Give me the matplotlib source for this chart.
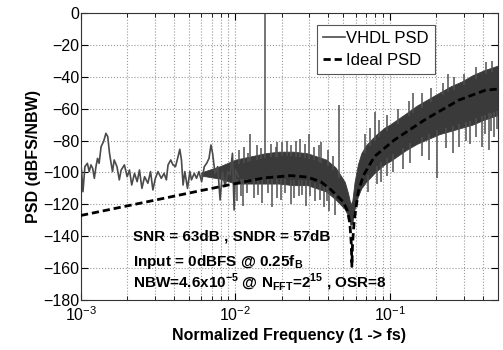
import numpy as np
import matplotlib
matplotlib.use('Agg')
import matplotlib.pyplot as plt

plt.rcParams['font.family'] = ['Liberation Sans', 'DejaVu Sans']
plt.rcParams['mathtext.fontset'] = 'custom'
plt.rcParams['mathtext.rm'] = 'Liberation Sans'
plt.rcParams['mathtext.bf'] = 'Liberation Sans:bold'

# VHDL PSD, low frequency part
lf_f = [0.00100, 0.00101, 0.00103, 0.00106, 0.00110, 0.00113, 0.00116, 0.00119,
        0.00122, 0.00125, 0.00128, 0.00131, 0.00135, 0.00140, 0.00145, 0.00149,
        0.00153, 0.00156, 0.00160, 0.00164, 0.00171, 0.00177, 0.00182, 0.00191,
        0.00199, 0.00206, 0.00213, 0.00222, 0.00231, 0.00239, 0.00248, 0.00258,
        0.00271, 0.00282, 0.00292, 0.00303, 0.00315, 0.00331, 0.00345, 0.00357,
        0.00366, 0.00381, 0.00394, 0.00409, 0.00425, 0.00436, 0.00447, 0.00458,
        0.00470, 0.00489, 0.00507, 0.00519, 0.00541, 0.00560, 0.00580, 0.00604,
        0.00628, 0.00651, 0.00674, 0.00694, 0.00711, 0.00737, 0.00767, 0.00795,
        0.00823, 0.00856, 0.00891, 0.00923, 0.00956, 0.00980, 0.01000, 0.01046]
lf_db = [-95.3, -99.5, -112.1, -96.4, -94.3, -99.5, -95.3, -97.4,
         -103.7, -96.4, -91.2, -94.3, -83.8, -80.7, -75.5, -77.6,
         -88.0, -93.2, -99.5, -92.2, -96.4, -104.7, -98.5, -95.3,
         -102.7, -98.5, -107.9, -100.6, -105.8, -98.5, -110.0, -102.7,
         -106.8, -99.5, -111.0, -103.7, -99.5, -103.7, -100.6, -104.7,
         -95.3, -92.2, -95.3, -96.4, -90.1, -85.5, -92.2, -107.9,
         -99.5, -110.0, -99.5, -104.7, -100.6, -103.7, -99.5, -105.8,
         -96.4, -94.3, -91.2, -82.8, -88.0, -100.6, -96.4, -117.3,
         -99.5, -108.9, -99.5, -101.6, -88.0, -123.6, -98.5, -102.7]

# VHDL PSD, dense band envelope
band_f = [0.0060, 0.0080, 0.0100, 0.0125, 0.0155, 0.0191, 0.0236, 0.0292, 0.0336,
          0.0387, 0.0445, 0.0510, 0.0535, 0.0555, 0.0570, 0.0590, 0.0620, 0.0652,
          0.0700, 0.0800, 0.0920, 0.1000, 0.127, 0.150, 0.177, 0.209, 0.247, 0.291,
          0.343, 0.405, 0.500]
band_top = [-100, -96, -92, -90, -88, -87, -87, -88, -90, -92, -97, -106, -113,
            -120, -118, -106, -95, -88, -83, -77, -72, -70, -63, -58, -54, -50, -46,
            -43, -39, -36, -33]
band_bot = [-102, -104, -107, -107, -107, -107, -108, -108, -110, -112, -117, -123,
            -127, -133, -132, -123, -115, -110, -106, -100, -95, -93, -86, -82, -79,
            -76, -74, -72, -70, -67, -64]

# spurs above the band (freq, top)
up_f = [0.0105, 0.0113, 0.0121, 0.0125, 0.0138, 0.0147, 0.0156, 0.0171, 0.0182,
        0.0186, 0.0200, 0.0215, 0.0228, 0.0245, 0.0262, 0.0280, 0.0300, 0.0320,
        0.0348, 0.0360, 0.0400, 0.0430, 0.0471, 0.0685, 0.0740, 0.0796, 0.085,
        0.096, 0.112, 0.133, 0.1416, 0.16, 0.185, 0.22, 0.239, 0.26, 0.30, 0.36,
        0.42, 0.46]
up_top = [-86, -84, -88, -76, -83, -85, 0, -82, -84, -81, -81, -80, -83, -80,
          -79, -82, -76, -84, -83, -81, -86, -90, -58, -76, -72, -62, -67, -64,
          -60, -55, -50, -50, -47, -44, -38, -40, -38, -34, -31, -30]

# dips below the band (freq, bottom)
dn_f = [0.0103, 0.0108, 0.0112, 0.0118, 0.0131, 0.0140, 0.0148, 0.0163, 0.0172,
        0.0185, 0.0197, 0.0210, 0.0228, 0.0240, 0.0258, 0.0270, 0.0286, 0.0305,
        0.0325, 0.0350, 0.0372, 0.0390, 0.0402, 0.0440, 0.0720, 0.0820, 0.0880,
        0.095, 0.105, 0.121, 0.135, 0.16, 0.18, 0.201, 0.23, 0.255, 0.28, 0.31,
        0.330, 0.36, 0.394, 0.41, 0.436, 0.45, 0.470, 0.49]
dn_bot = [-118, -115, -121, -113, -116, -114, -119, -113, -122, -116, -117, -113,
          -120, -116, -115, -114, -121, -115, -118, -117, -122, -118, -124, -127,
          -112, -107, -106, -102, -100, -98, -94, -90, -92, -103.5, -85, -88, -84,
          -80, -82, -78, -84, -76, -86, -74, -78, -73]

# Ideal PSD
ideal_f = [0.001, 0.00251, 0.00591, 0.0100, 0.0152, 0.0228, 0.0294, 0.0358, 0.0416,
           0.0498, 0.0530, 0.0550, 0.0562, 0.0567, 0.0572, 0.0587, 0.0624, 0.0672,
           0.0794, 0.107, 0.168, 0.280, 0.413, 0.500]
ideal_db = [-127, -119, -111.5, -107, -103.5, -102, -103, -106, -111,
            -118.5, -124, -132, -145, -159, -145, -130, -112, -102,
            -90, -79.6, -67, -54.6, -48.5, -47.7]

fig = plt.figure(figsize=(5.03, 3.5), dpi=100)
ax = fig.add_axes([0.161, 0.143, 0.829, 0.82])

lb = np.log10(band_f)
ax.fill_between(band_f, band_bot, band_top, color='#3a3a3a', lw=0.6, zorder=2)
up_base = np.interp(np.log10(up_f), lb, band_top) - 3
ax.vlines(up_f, up_base, up_top, color='#505050', lw=1.1, zorder=2)
dn_top = np.interp(np.log10(dn_f), lb, band_bot) + 3
ax.vlines(dn_f, dn_bot, dn_top, color='#505050', lw=1.1, zorder=2)
ax.plot(lf_f, lf_db, color='#4a4a4a', lw=1.2, zorder=3, label='VHDL PSD')
ax.plot(ideal_f, ideal_db, color='black', lw=2, ls=(0, (2.6, 1.4)), zorder=4, label='Ideal PSD')

ax.set_xscale('log')
ax.set_xlim(1e-3, 0.5)
ax.set_ylim(-180, 0)
ax.set_yticks(np.arange(-180, 1, 20))
ax.grid(True, which='major', ls=':', color='#999999', lw=0.8)
ax.grid(True, which='minor', axis='x', ls=':', color='#999999', lw=0.8)
ax.tick_params(which='both', direction='in', top=True, right=True, labelsize=11.5)
ax.tick_params(axis='x', pad=4)
ax.tick_params(axis='y', pad=1)
ax.tick_params(which='major', length=5)
ax.tick_params(which='minor', length=3)
for s in ax.spines.values():
    s.set_color('#333333')

ax.set_xlabel('Normalized Frequency (1 -> fs)', fontsize=11.5, fontweight='bold', labelpad=3)
ax.set_ylabel('PSD (dBFS/NBW)', fontsize=11.5, fontweight='bold', labelpad=2)

leg = ax.legend(loc='upper right', bbox_to_anchor=(0.868, 0.988), fontsize=12,
                handlelength=1.3, handletextpad=0.1, fancybox=False, framealpha=1,
                edgecolor='#555555', borderpad=0.35, labelspacing=0.45)
leg.get_frame().set_linewidth(0.8)

ax.text(0.00217, -140, 'SNR = 63dB , SNDR = 57dB', fontsize=11, fontweight='bold',
        va='center', zorder=5)
ax.text(0.00217, -156, r'Input = 0dBFS @ 0.25f$_\mathbf{B}$', fontsize=11,
        fontweight='bold', va='center', zorder=5)
ax.text(0.00217, -169, r'NBW=4.6x10$^\mathbf{-5}$ @ N$_\mathbf{FFT}$=2$^\mathbf{15}$ , OSR=8',
        fontsize=11, fontweight='bold', va='center', zorder=5)

fig.savefig('out.png', dpi=100)
